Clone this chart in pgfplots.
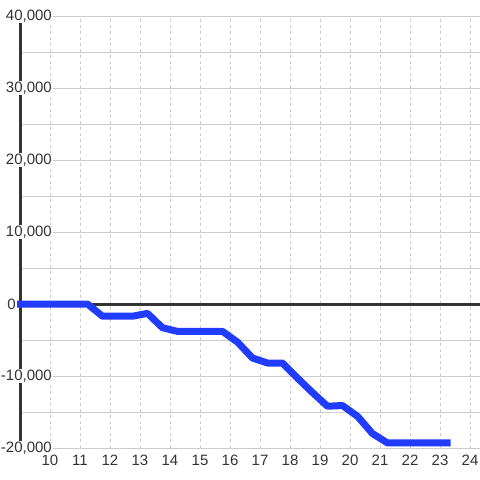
\documentclass[border=0pt]{standalone}
\usepackage{pgfplots}
\pgfplotsset{compat=1.18}
\usepackage{fontspec}
\setmainfont{Liberation Sans}
\definecolor{txt}{HTML}{333333}
\definecolor{gridc}{HTML}{CCCCCC}
\definecolor{lineblue}{RGB}{33,60,255}
\begin{document}
\begin{tikzpicture}
\useasboundingbox (0,0) rectangle (480bp,480bp);
\begin{axis}[
  at={(20bp,32bp)}, anchor=south west,
  scale only axis, width=460bp, height=432bp,
  xmin=9, xmax=24.3333, ymin=-20000, ymax=40000,
  clip=false,
  xtick={10,...,24},
  minor x tick num=0,
  ytick={-20000,-10000,10000,20000,30000,40000},
  minor ytick={-15000,-5000,5000,15000,25000,35000},
  extra y ticks={0},
  extra y tick style={yticklabel style={xshift=-36bp}},
  xmajorgrids, xminorgrids=false, ymajorgrids, yminorgrids,
  major x grid style={gridc, line width=1bp, dash pattern=on 3bp off 3bp},
  major y grid style={gridc, line width=1bp},
  minor y grid style={gridc, line width=1bp},
  separate axis lines,
  axis x line*=bottom, axis y line*=left,
  x axis line style={draw=none},
  y axis line style={txt, line width=3bp, -},
  major tick length=0pt, minor tick length=0pt,
  tick style={draw=none},
  scaled y ticks=false,
  /pgf/number format/1000 sep={,},
  /pgf/number format/assume math mode=true,
  tick label style={font=\fontsize{15bp}{18bp}\selectfont, text=txt},
  yticklabel style={anchor=east, xshift=33bp, fill=white, inner sep=1bp},
  xticklabel style={anchor=north, yshift=-7bp, inner sep=0pt},
]
\addplot[txt, line width=3bp] coordinates {(9,0) (24.3333,0)};
\addplot[lineblue, line width=7bp, line join=round] coordinates {
(8.9,0) (11.25,0) (11.75,-1700) (12.75,-1700) (13.25,-1300) (13.75,-3300)
(14.25,-3800) (15.75,-3800) (16.25,-5300) (16.75,-7500) (17.25,-8200)
(17.75,-8200) (18.25,-10300) (18.75,-12300) (19.25,-14200) (19.75,-14100)
(20.25,-15600) (20.75,-18000) (21.25,-19300) (23.35,-19300)
};
\end{axis}
\end{tikzpicture}
\end{document}
